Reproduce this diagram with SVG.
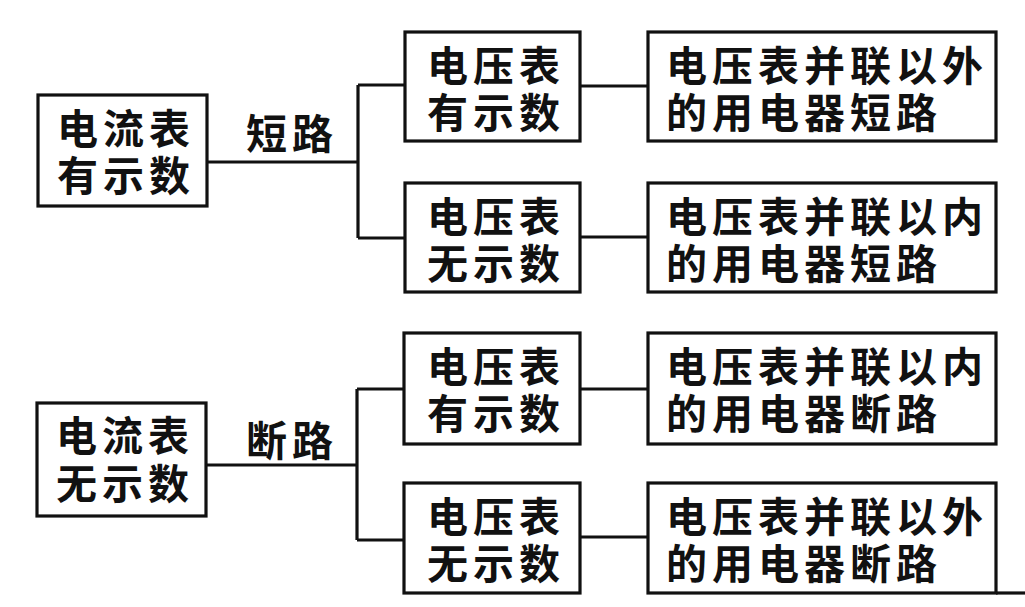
<svg xmlns="http://www.w3.org/2000/svg" width="1025" height="607" viewBox="0 0 1025 607">
<style>
.box{fill:#fff;stroke:#111;stroke-width:3.2}
.t{font-family:"Liberation Sans","Noto Sans CJK SC","Noto Sans CJK JP",sans-serif;font-size:41px;font-weight:700;fill:#111;letter-spacing:5px}
.c{fill:none;stroke:#111;stroke-width:3.2}
</style>
<rect width="1025" height="607" fill="#fff"/>
<g id="connectors">
<path class="c" d="M207 162H358M358 85V238M358 85H405M358 238H405M580 86H648M580 237H648"/>
<path class="c" d="M206 465H357M357 389V540M357 389H404M357 540H404M580 389H648M580 537H648"/>
<path class="c" d="M996 593H1025"/>
</g>
<g id="label-short"><text class="t" x="246" y="149">短路</text></g>
<g id="label-open"><text class="t" x="246" y="456">断路</text></g>
<g id="n1"><rect class="box" x="38" y="95" width="169" height="111"/><text class="t" x="57" y="144">电流表<tspan x="57" dy="47">有示数</tspan></text></g>
<g id="n2"><rect class="box" x="405" y="32" width="175" height="109"/><text class="t" x="427" y="81">电压表<tspan x="427" dy="47">有示数</tspan></text></g>
<g id="n3"><rect class="box" x="405" y="183" width="175" height="109"/><text class="t" x="427" y="232">电压表<tspan x="427" dy="47">无示数</tspan></text></g>
<g id="n4"><rect class="box" x="648" y="32" width="348" height="109"/><text class="t" x="666" y="81">电压表并联以外<tspan x="666" dy="47">的用电器短路</tspan></text></g>
<g id="n5"><rect class="box" x="648" y="183" width="348" height="109"/><text class="t" x="666" y="232">电压表并联以内<tspan x="666" dy="47">的用电器短路</tspan></text></g>
<g id="n6"><rect class="box" x="37" y="403" width="169" height="113"/><text class="t" x="56" y="451">电流表<tspan x="56" dy="48">无示数</tspan></text></g>
<g id="n7"><rect class="box" x="404" y="333" width="176" height="111"/><text class="t" x="427" y="382">电压表<tspan x="427" dy="47">有示数</tspan></text></g>
<g id="n8"><rect class="box" x="404" y="483" width="176" height="110"/><text class="t" x="427" y="532">电压表<tspan x="427" dy="47">无示数</tspan></text></g>
<g id="n9"><rect class="box" x="648" y="333" width="348" height="111"/><text class="t" x="666" y="382">电压表并联以内<tspan x="666" dy="47">的用电器断路</tspan></text></g>
<g id="n10"><rect class="box" x="648" y="483" width="348" height="110"/><text class="t" x="666" y="532">电压表并联以外<tspan x="666" dy="47">的用电器断路</tspan></text></g>
</svg>
